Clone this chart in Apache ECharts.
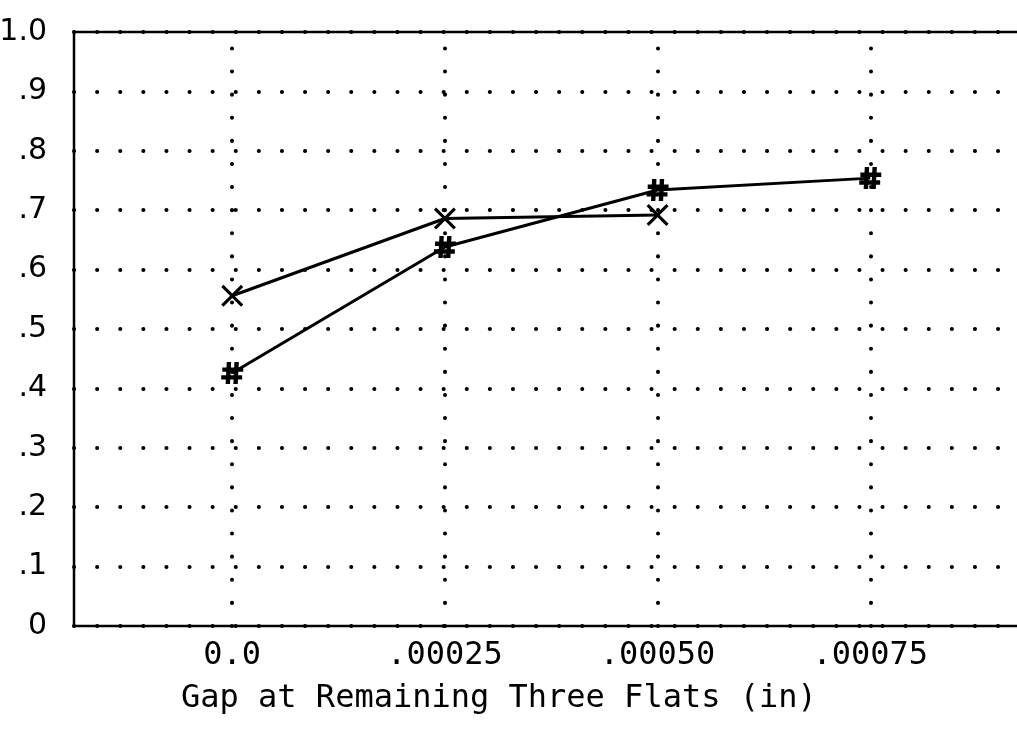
<!DOCTYPE html>
<html>
<head>
<meta charset="utf-8">
<script src="https://cdn.jsdelivr.net/npm/echarts@6/dist/echarts.min.js"></script>
<style>
  html, body { margin: 0; padding: 0; background: #fff; }
  #chart { width: 1017px; height: 731px; }
</style>
</head>
<body>
<div id="chart"></div>
<script>
const xTicks = [0, 0.00025, 0.0005, 0.00075];
const xTickLabels = ['0.0', '.00025', '.00050', '.00075'];
const yTicks = [0, 0.1, 0.2, 0.3, 0.4, 0.5, 0.6, 0.7, 0.8, 0.9, 1.0];
const yTickLabels = ['0', '.1', '.2', '.3', '.4', '.5', '.6', '.7', '.8', '.9', '1.0'];

const crossGap = [0, 0.00025, 0.0005];
const crossVal = [0.556, 0.686, 0.692];
const hashGap = [0, 0.00025, 0.0005, 0.00075];
const hashVal = [0.426, 0.638, 0.734, 0.754];

const FONT = '"DejaVu Sans Mono", monospace';
const crossPath = 'path://M0,2 L2,0 L10,8 L18,0 L20,2 L12,10 L20,18 L18,20 L10,12 L2,20 L0,18 L8,10 Z';
const hashPath = 'path://M5,0 L9,0 L8,20 L4,20 Z M12,0 L16,0 L15,20 L11,20 Z M1,5 L20,5 L20,9 L1,9 Z M0,12 L19,12 L19,16 L0,16 Z';

const chart = echarts.init(document.getElementById('chart'), null, { renderer: 'canvas' });

const dotted = { color: '#000', width: 4, type: [0.1, 23], cap: 'round' };

chart.setOption({
  backgroundColor: '#fff',
  animation: false,
  title: {
    text: 'Gap at Remaining Three Flats (in)',
    left: 176,
    top: 678,
    textStyle: { fontFamily: FONT, fontSize: 32, fontWeight: 'normal', color: '#000' }
  },
  grid: {
    left: 74, top: 32, right: -3, bottom: 105,
    outerBoundsMode: 'none',
    containLabel: false,
    show: true, borderColor: '#000', borderWidth: 2.5, backgroundColor: 'transparent'
  },
  xAxis: {
    type: 'value',
    min: -0.000186,
    max: 0.000926,
    axisLine: { show: false },
    axisTick: { show: false },
    splitLine: { show: false },
    axisLabel: {
      customValues: xTicks,
      margin: 14,
      fontFamily: FONT,
      fontSize: 32,
      color: '#000',
      formatter: (v) => {
        const i = xTicks.findIndex(t => Math.abs(t - v) < 1e-9);
        return i >= 0 ? xTickLabels[i] : '';
      }
    }
  },
  yAxis: {
    type: 'value',
    min: 0,
    max: 1,
    interval: 0.1,
    axisLine: { show: false },
    axisTick: { show: false },
    splitLine: { show: true, lineStyle: dotted },
    axisLabel: {
      margin: 27,
      fontFamily: '"DejaVu Sans", sans-serif',
      fontSize: 30,
      color: '#000',
      formatter: (v) => {
        const i = yTicks.findIndex(t => Math.abs(t - v) < 1e-6);
        return i >= 0 ? yTickLabels[i] : '';
      }
    }
  },
  series: [
    {
      name: 'cross',
      type: 'line',
      data: crossGap.map((g, i) => [g, crossVal[i]]),
      symbol: crossPath,
      symbolSize: 22,
      showAllSymbol: true,
      z: 3,
      lineStyle: { color: '#000', width: 3 },
      itemStyle: { color: '#000' }
    },
    {
      name: 'hash',
      type: 'line',
      data: hashGap.map((g, i) => [g, hashVal[i]]),
      symbol: hashPath,
      symbolSize: 22,
      showAllSymbol: true,
      z: 3,
      lineStyle: { color: '#000', width: 3 },
      itemStyle: { color: '#000' },
      markLine: {
        silent: true,
        symbol: 'none',
        label: { show: false },
        lineStyle: dotted,
        data: xTicks.map(x => [{ coord: [x, 0] }, { coord: [x, 1] }])
      }
    }
  ]
});
</script>
</body>
</html>
